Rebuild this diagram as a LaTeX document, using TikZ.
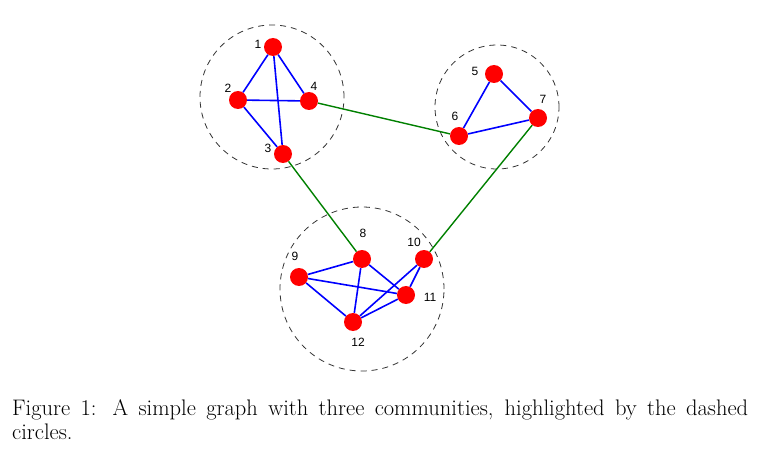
\documentclass[tikz,border=0pt]{standalone}
\usepackage{fontspec}
\newfontfamily\labfont{Liberation Sans}
\begin{document}
\begin{tikzpicture}[x=1pt,y=-1pt,
  vtx/.style={circle,fill=red,draw=none,minimum size=18pt,inner sep=0pt},
  lab/.style={font=\labfont\fontsize{12}{13}\selectfont,inner sep=0pt},
  inedge/.style={blue,line width=1.6pt},
  outedge/.style={green!50!black,line width=1.4pt},
  comm/.style={draw=black!80,line width=0.8pt,dash pattern=on 6pt off 5pt}]
\useasboundingbox (0,0) rectangle (764,460);
\node[comm,circle,minimum size=144pt] (c1) at (272,97) {};
\node[comm,circle,minimum size=124pt] (c2) at (497,107) {};
\node[comm,circle,minimum size=164pt] (c3) at (362,289) {};
\node[vtx] (n1) at (273,47) {};
\node[vtx] (n2) at (238,100) {};
\node[vtx] (n4) at (309,101) {};
\node[vtx] (n3) at (283,154) {};
\node[vtx] (n5) at (494,74) {};
\node[vtx] (n6) at (459,136) {};
\node[vtx] (n7) at (538,118) {};
\node[vtx] (n8) at (362,259) {};
\node[vtx] (n9) at (299,277) {};
\node[vtx] (n10) at (424,259) {};
\node[vtx] (n11) at (406,295) {};
\node[vtx] (n12) at (353,322) {};
\draw[inedge] (n1) -- (n2);
\draw[inedge] (n1) -- (n4);
\draw[inedge] (n1) -- (n3);
\draw[inedge] (n2) -- (n4);
\draw[inedge] (n2) -- (n3);
\draw[inedge] (n5) -- (n6);
\draw[inedge] (n5) -- (n7);
\draw[inedge] (n6) -- (n7);
\draw[inedge] (n8) -- (n9);
\draw[inedge] (n8) -- (n12);
\draw[inedge] (n8) -- (n11);
\draw[inedge] (n9) -- (n11);
\draw[inedge] (n9) -- (n12);
\draw[inedge] (n10) -- (n12);
\draw[inedge] (n10) -- (n11);
\draw[inedge] (n11) -- (n12);
\draw[outedge] (n4) -- (n6);
\draw[outedge] (n3) -- (n8);
\draw[outedge] (n7) -- (n10);
\node[lab] (l1) at (258,44) {1};
\node[lab] (l2) at (228,88) {2};
\node[lab] (l4) at (314,86) {4};
\node[lab] (l3) at (268,148) {3};
\node[lab] (l5) at (475,71) {5};
\node[lab] (l6) at (455,116) {6};
\node[lab] (l7) at (543,99) {7};
\node[lab] (l8) at (363,233) {8};
\node[lab] (l9) at (295,256) {9};
\node[lab] (l10) at (414,242) {10};
\node[lab] (l11) at (430,297) {11};
\node[lab] (l12) at (358,342) {12};
\node[anchor=north west,text width=736pt,inner sep=0pt,align=justify,
  font=\fontsize{22.5}{24}\selectfont] (cap) at (12,399)
  {Figure 1: A simple graph with three communities, highlighted by the dashed\linebreak circles.};
\end{tikzpicture}
\end{document}
